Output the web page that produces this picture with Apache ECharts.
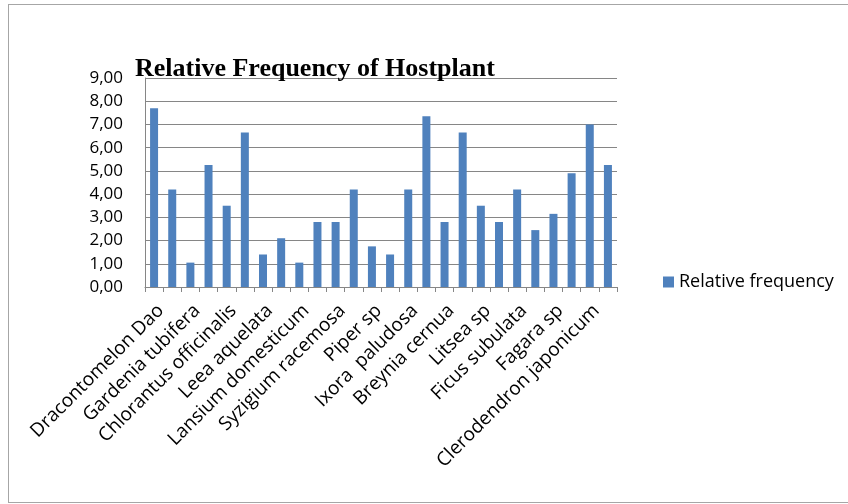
<!DOCTYPE html>
<html>
<head>
<meta charset="utf-8">
<script src="https://cdn.jsdelivr.net/npm/echarts@6/dist/echarts.min.js"></script>
<style>
  html, body { margin: 0; padding: 0; background: #fff; }
  #frame {
    position: absolute; left: 8px; top: 4px; width: 860px; height: 499px;
    border: 1px solid #a6a6a6; box-sizing: border-box;
  }
  #main { position: absolute; left: 0; top: 0; width: 848px; height: 504px; }
</style>
</head>
<body>
<div id="frame"></div>
<div id="main"></div>
<script>
// every other category name is hidden in the original (label interval 1)
const plants = [
  'Dracontomelon Dao', '', 'Gardenia tubifera', '', 'Chlorantus officinalis', '',
  'Leea aquelata', '', 'Lansium domesticum', '', 'Syzigium racemosa', '',
  'Piper sp', '', 'Ixora  paludosa', '', 'Breynia cernua', '', 'Litsea sp', '',
  'Ficus subulata', '', 'Fagara sp', '', 'Clerodendron japonicum', ''
]
const relFreq = [
  7.70, 4.20, 1.05, 5.25, 3.50, 6.65, 1.40, 2.10, 1.05, 2.80, 2.80, 4.20, 1.75,
  1.40, 4.20, 7.35, 2.80, 6.65, 3.50, 2.80, 4.20, 2.45, 3.15, 4.90, 7.00, 5.25
]
const seriesName = 'Relative frequency'

const chart = echarts.init(document.getElementById('main'))
chart.setOption({
  animation: false,
  title: {
    text: 'Relative Frequency of Hostplant',
    left: 130,
    top: 51,
    textStyle: {
      fontFamily: 'Liberation Serif',
      fontWeight: 'bold',
      fontSize: 26,
      color: '#000'
    }
  },
  legend: {
    data: [seriesName],
    orient: 'vertical',
    left: 658,
    top: 268,
    itemWidth: 11,
    itemHeight: 11,
    itemGap: 6,
    icon: 'rect',
    textStyle: {
      fontFamily: 'Open Sans',
      fontSize: 18,
      color: '#000'
    }
  },
  grid: {
    left: 145,
    top: 78,
    width: 472,
    height: 209,
    containLabel: false
  },
  xAxis: {
    type: 'category',
    data: plants,
    boundaryGap: true,
    axisLine: { lineStyle: { color: '#868686', width: 1 } },
    axisTick: { show: true, length: 5, alignWithLabel: false, interval: 0, lineStyle: { color: '#868686' } },
    axisLabel: {
      interval: 0,
      rotate: 45,
      margin: 14,
      verticalAlign: 'top',
      fontFamily: 'Open Sans',
      fontSize: 19,
      color: '#000'
    }
  },
  yAxis: {
    type: 'value',
    min: 0,
    max: 9,
    interval: 1,
    axisLine: { show: true, lineStyle: { color: '#868686', width: 1 } },
    axisTick: { show: false },
    splitLine: { lineStyle: { color: '#868686', width: 1 } },
    axisLabel: {
      margin: 22,
      fontFamily: 'Open Sans',
      fontSize: 17,
      color: '#000',
      formatter: v => v.toFixed(2).replace('.', ',')
    }
  },
  series: [{
    name: seriesName,
    type: 'bar',
    data: relFreq,
    barWidth: 8,
    itemStyle: { color: '#4F81BD' }
  }]
})
</script>
</body>
</html>
